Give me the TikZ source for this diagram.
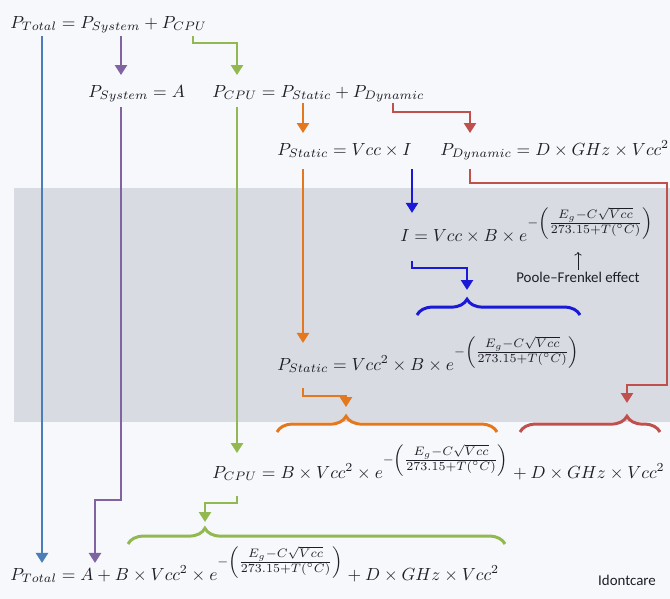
\documentclass[tikz,border=0pt]{standalone}
\usepackage{fontspec}
\newfontfamily\notefont{Carlito}
\usetikzlibrary{arrows.meta, decorations.pathreplacing, calc}
\definecolor{flowsteel}{RGB}{74,126,187}
\definecolor{flowpurple}{RGB}{128,100,162}
\definecolor{flowgreen}{RGB}{146,184,80}
\definecolor{floworange}{RGB}{228,120,30}
\definecolor{flowred}{RGB}{192,80,77}
\definecolor{flowblue}{RGB}{25,25,215}
\definecolor{bandgrey}{RGB}{216,219,226}
\definecolor{paperwhite}{RGB}{247,248,251}
\definecolor{inkgrey}{RGB}{30,30,40}
\newcommand{\expterm}{e^{-\left(\frac{\scriptstyle E_g-C\sqrt{Vcc}}{\scriptstyle 273.15+T({}^{\circ}C)}\right)}}
\tikzset{
    eqn/.style={anchor=base west, inner sep=0pt, text=inkgrey},
    flow/.style={-{Triangle[width=6.8pt,length=5.7pt]}, line width=1.7pt, draw=#1},
    brc/.style={decorate, decoration={brace, amplitude=9pt, aspect=#1}, line width=1.7pt},
    note/.style={font=\notefont\fontsize{8.5}{10}\selectfont, text=inkgrey, inner sep=1pt}
}
\begin{document}
\begin{tikzpicture}[x=0.57pt, y=-0.57pt]
    % Page and grey band
    \fill[paperwhite] (0,0) rectangle (670,599);
    \fill[bandgrey] (14,188) rectangle (670,422);
    \useasboundingbox (0,0) rectangle (670,599);

    % Equations
    \node[eqn] (eqTop) at (10,28) {$P_{Total} = P_{System} + P_{CPU}$};
    \node[eqn] (eqSys) at (88,97) {$P_{System} = A$};
    \node[eqn] (eqCpu) at (212,97) {$P_{CPU} = P_{Static} + P_{Dynamic}$};
    \node[eqn] (eqStat) at (277,155) {$P_{Static} = Vcc \times I$};
    \node[eqn] (eqDyn) at (440,155) {$P_{Dynamic} = D \times GHz \times Vcc^2$};
    \node[eqn] (eqCur) at (400,241) {$I = Vcc \times B \times \expterm$};
    \node[eqn] (eqStat2) at (277,370) {$P_{Static} = Vcc^2 \times B \times \expterm$};
    \node[eqn] (eqCpu2) at (212,478) {$P_{CPU} = B \times Vcc^2 \times \expterm + D \times GHz \times Vcc^2$};
    \node[eqn] (eqTot2) at (10,580) {$P_{Total} = A + B \times Vcc^2 \times \expterm + D \times GHz \times Vcc^2$};

    % Notes
    \node[note] (pf) at (578,277) {Poole–Frenkel effect};
    \coordinate (expMid) at (578,252);
    \draw[-{To[length=2pt]}, thin, inkgrey] (pf) -- (expMid);
    \node[note, anchor=base east] (sig) at (658,585) {Idontcare};

    % Braces
    \draw[brc=0.307, flowblue] (417,315) -- (580,315);
    \draw[brc=0.314, floworange] (277,432) -- (497,432);
    \draw[brc=0.764, flowred] (520,432) -- (660,432);
    \draw[brc=0.204, flowgreen] (128,544) -- (505,544);
    \coordinate (tipB) at (467,300);
    \coordinate (tipO) at (346,416);
    \coordinate (tipR) at (627,416);
    \coordinate (tipG) at (205,528);

    % Bend points
    \coordinate (xTot) at (42,0);
    \coordinate (xSys) at (121,0);
    \coordinate (xCpuA) at (193,0);
    \coordinate (xCpu) at (237,0);
    \coordinate (xSta) at (303,0);
    \coordinate (xDynA) at (393,0);
    \coordinate (xI) at (412,0);
    \coordinate (jogP) at (95,500);
    \coordinate (jogG) at (237,43);
    \coordinate (jogG2) at (205,503);
    \coordinate (jogO) at (346,396);
    \coordinate (jogRa) at (470,112);
    \coordinate (jogRb) at (667,183);
    \coordinate (jogRc) at (667,385);
    \coordinate (jogRd) at (627,385);
    \coordinate (jogB) at (467,268);

    % Steel: system + cpu to total
    \draw[flow=flowsteel, shorten <=4.6pt, shorten >=9.7pt] (eqTop.base -| xTot) -- (eqTot2.base -| xTot);

    % Purple: system power
    \draw[flow=flowpurple, shorten <=4.6pt, shorten >=12.5pt] (eqTop.base -| xSys) -- (eqSys.base -| xSys);
    \draw[flow=flowpurple, shorten <=5.7pt, shorten >=9.7pt] (eqSys.base -| xSys) -- (xSys |- jogP) -- (jogP) -- (eqTot2.base -| jogP);

    % Green: cpu power
    \draw[flow=flowgreen, shorten <=4.6pt, shorten >=12.5pt] (eqTop.base -| xCpuA) -- (xCpuA |- jogG) -- (jogG) -- (eqCpu.base -| jogG);
    \draw[flow=flowgreen, shorten <=5.7pt, shorten >=14.2pt] (eqCpu.base -| xCpu) -- (eqCpu2.base -| xCpu);
    \draw[flow=flowgreen, shorten <=10.3pt, shorten >=3.4pt] (eqCpu2.base -| xCpu) -- (xCpu |- jogG2) -- (jogG2) -- (tipG);

    % Orange: static power
    \draw[flow=floworange, shorten <=3.4pt, shorten >=12.5pt] (eqCpu.base -| xSta) -- (eqStat.base -| xSta);
    \draw[flow=floworange, shorten <=8pt, shorten >=15.4pt] (eqStat.base -| xSta) -- (eqStat2.base -| xSta);
    \draw[flow=floworange, shorten <=10.3pt, shorten >=5.1pt] (eqStat2.base -| xSta) -- (xSta |- jogO) -- (jogO) -- (tipO);

    % Red: dynamic power
    \draw[flow=flowred, shorten <=3.4pt, shorten >=12.5pt] (eqCpu.base -| xDynA) -- (xDynA |- jogRa) -- (jogRa) -- (eqDyn.base -| jogRa);
    \draw[flow=flowred, shorten <=8pt, shorten >=7.4pt] (eqDyn.base -| jogRa) -- (jogRa |- jogRb) -- (jogRb) -- (jogRc) -- (jogRd) -- (tipR);

    % Blue: leakage current
    \draw[flow=flowblue, shorten <=8pt, shorten >=16pt] (eqStat.base -| xI) -- (eqCur.base -| xI);
    \draw[flow=flowblue, shorten <=11.4pt, shorten >=5.7pt] (eqCur.base -| xI) -- (xI |- jogB) -- (jogB) -- (tipB);
\end{tikzpicture}
\end{document}
